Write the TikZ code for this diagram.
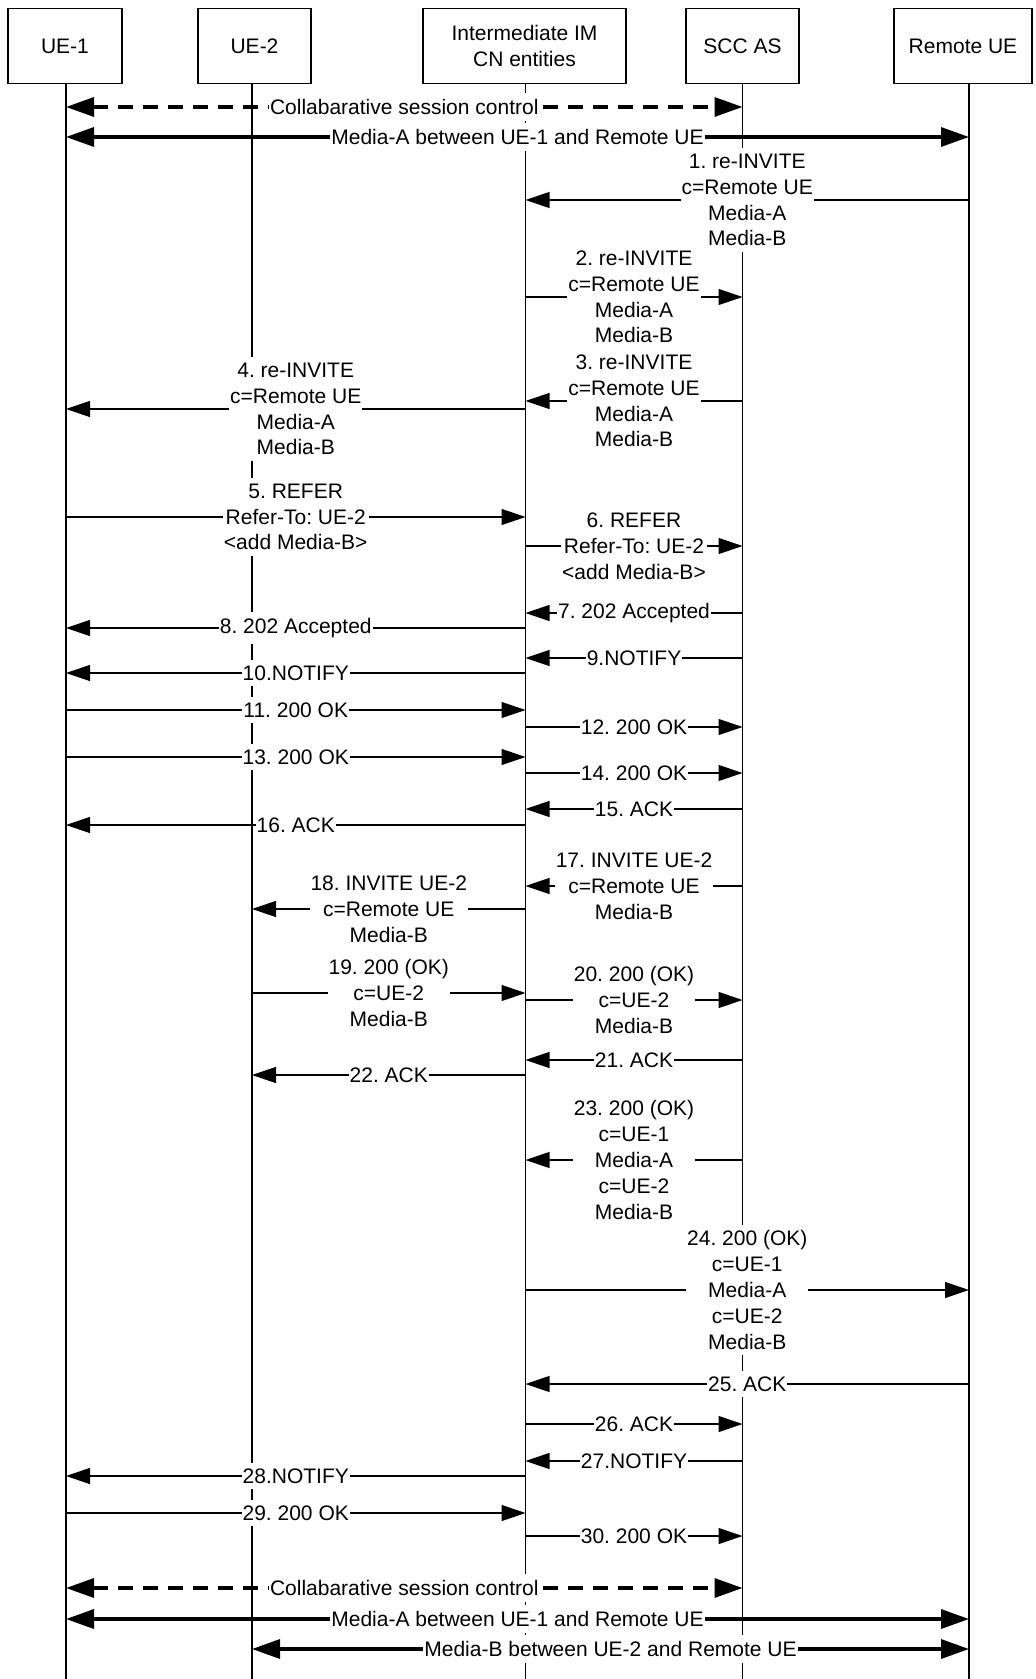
\documentclass[tikz,border=0pt]{standalone}
\usepackage{fontspec}
\setmainfont{Liberation Sans}
\usetikzlibrary{arrows.meta}

\begin{document}
\begin{tikzpicture}[x=0.5pt,y=-0.5pt,>={Triangle[length=12pt,width=8pt]},line width=0.6pt,
	font=\fontsize{10.5pt}{12.9pt}\selectfont\frenchspacing]
	\tikzstyle{entity}=[draw,fill=white,minimum height=37.5pt,inner sep=2pt,align=center]
	\tikzstyle{msg}=[->]
	\tikzstyle{lbl}=[fill=white,inner xsep=0.5pt,inner ysep=3pt,align=center]
	\tikzstyle{media}=[<->,line width=1.7pt,>={Triangle[length=14pt,width=9.5pt]}]
	\tikzstyle{ctrl}=[media,dash pattern=on 7.5pt off 5pt]
	
	\useasboundingbox (0,0) rectangle (1035,1679);
	
	\node[entity,minimum width=57pt]    (ue1box)    at (65,46)    {UE-1};
	\node[entity,minimum width=56.5pt]  (ue2box)    at (254.5,46) {UE-2};
	\node[entity,minimum width=101.5pt] (imbox)     at (524.5,46) {Intermediate IM\\CN entities};
	\node[entity,minimum width=56.5pt]  (sccbox)    at (742.5,46) {SCC AS};
	\node[entity,minimum width=69pt]    (remotebox) at (963,46)   {Remote UE};
	
	% lifelines
	\coordinate (ue1)  at (66,84);
	\coordinate (ue2)  at (252,84);
	\coordinate (imcn) at (525.5,84);
	\coordinate (scc)  at (742.5,84);
	\coordinate (rue)  at (969,84);
	\coordinate (bottom) at (0,1679);
	\foreach \l in {ue1,ue2,imcn,scc,rue}
	\draw (\l) -- (\l |- bottom);
	
	% message rows
	\foreach \n/\y in {c1/107,a1/137,1/200,2/297,3/401,4/409,5/517,6/546,7/613,8/628,
		9/658,10/673,11/710,12/727,13/757,14/773,15/809,16/825,17/886,18/909,19/993,
		20/1000,21/1060,22/1075,23/1160,24/1290,25/1384,26/1424,27/1461,28/1476,
		29/1513,30/1536,c2/1588,a2/1619,b2/1649}
	\coordinate (r\n) at (0,\y);
	
	\draw[ctrl]  (ue1 |- rc1) -- node[lbl] {Collabarative session control} (scc |- rc1);
	\draw[media] (ue1 |- ra1) -- node[lbl] {Media-A between UE-1 and Remote UE} (rue |- ra1);
	
	\draw[msg] (rue |- r1) -- node[lbl] {1. re-INVITE\\c=Remote UE\\Media-A\\Media-B} (imcn |- r1);
	\draw[msg] (imcn |- r2) -- node[lbl] {2. re-INVITE\\c=Remote UE\\Media-A\\Media-B} (scc |- r2);
	\draw[msg] (scc |- r3) -- node[lbl] {3. re-INVITE\\c=Remote UE\\Media-A\\Media-B} (imcn |- r3);
	\draw[msg] (imcn |- r4) -- node[lbl] {4. re-INVITE\\c=Remote UE\\Media-A\\Media-B} (ue1 |- r4);
	\draw[msg] (ue1 |- r5) -- node[lbl] {5. REFER\\Refer-To: UE-2\\<add Media-B>} (imcn |- r5);
	\draw[msg] (imcn |- r6) -- node[lbl] {6. REFER\\Refer-To: UE-2\\<add Media-B>} (scc |- r6);
	\draw[msg] (scc |- r7) -- node[lbl] {7. 202 Accepted} (imcn |- r7);
	\draw[msg] (imcn |- r8) -- node[lbl] {8. 202 Accepted} (ue1 |- r8);
	\draw[msg] (scc |- r9) -- node[lbl] {9.NOTIFY} (imcn |- r9);
	\draw[msg] (imcn |- r10) -- node[lbl] {10.NOTIFY} (ue1 |- r10);
	\draw[msg] (ue1 |- r11) -- node[lbl] {11. 200 OK} (imcn |- r11);
	\draw[msg] (imcn |- r12) -- node[lbl] {12. 200 OK} (scc |- r12);
	\draw[msg] (ue1 |- r13) -- node[lbl] {13. 200 OK} (imcn |- r13);
	\draw[msg] (imcn |- r14) -- node[lbl] {14. 200 OK} (scc |- r14);
	\draw[msg] (scc |- r15) -- node[lbl] {15. ACK} (imcn |- r15);
	\draw[msg] (imcn |- r16) -- node[lbl] {16. ACK} (ue1 |- r16);
	\draw[msg] (scc |- r17) -- node[lbl] {17. INVITE UE-2\\c=Remote UE\\Media-B} (imcn |- r17);
	\draw[msg] (imcn |- r18) -- node[lbl] {18. INVITE UE-2\\c=Remote UE\\Media-B} (ue2 |- r18);
	\draw[msg] (ue2 |- r19) -- node[lbl] {19. 200 (OK)\\c=UE-2\\Media-B} (imcn |- r19);
	\draw[msg] (imcn |- r20) -- node[lbl] {20. 200 (OK)\\c=UE-2\\Media-B} (scc |- r20);
	\draw[msg] (scc |- r21) -- node[lbl] {21. ACK} (imcn |- r21);
	\draw[msg] (imcn |- r22) -- node[lbl] {22. ACK} (ue2 |- r22);
	\draw[msg] (scc |- r23) -- node[lbl] {23. 200 (OK)\\c=UE-1\\Media-A\\c=UE-2\\Media-B} (imcn |- r23);
	\draw[msg] (imcn |- r24) -- node[lbl] {24. 200 (OK)\\c=UE-1\\Media-A\\c=UE-2\\Media-B} (rue |- r24);
	\draw[msg] (rue |- r25) -- node[lbl] {25. ACK} (imcn |- r25);
	\draw[msg] (imcn |- r26) -- node[lbl] {26. ACK} (scc |- r26);
	\draw[msg] (scc |- r27) -- node[lbl] {27.NOTIFY} (imcn |- r27);
	\draw[msg] (imcn |- r28) -- node[lbl] {28.NOTIFY} (ue1 |- r28);
	\draw[msg] (ue1 |- r29) -- node[lbl] {29. 200 OK} (imcn |- r29);
	\draw[msg] (imcn |- r30) -- node[lbl] {30. 200 OK} (scc |- r30);
	
	\draw[ctrl]  (ue1 |- rc2) -- node[lbl] {Collabarative session control} (scc |- rc2);
	\draw[media] (ue1 |- ra2) -- node[lbl] {Media-A between UE-1 and Remote UE} (rue |- ra2);
	\draw[media] (ue2 |- rb2) -- node[lbl] {Media-B between UE-2 and Remote UE} (rue |- rb2);
	
\end{tikzpicture}
\end{document}
